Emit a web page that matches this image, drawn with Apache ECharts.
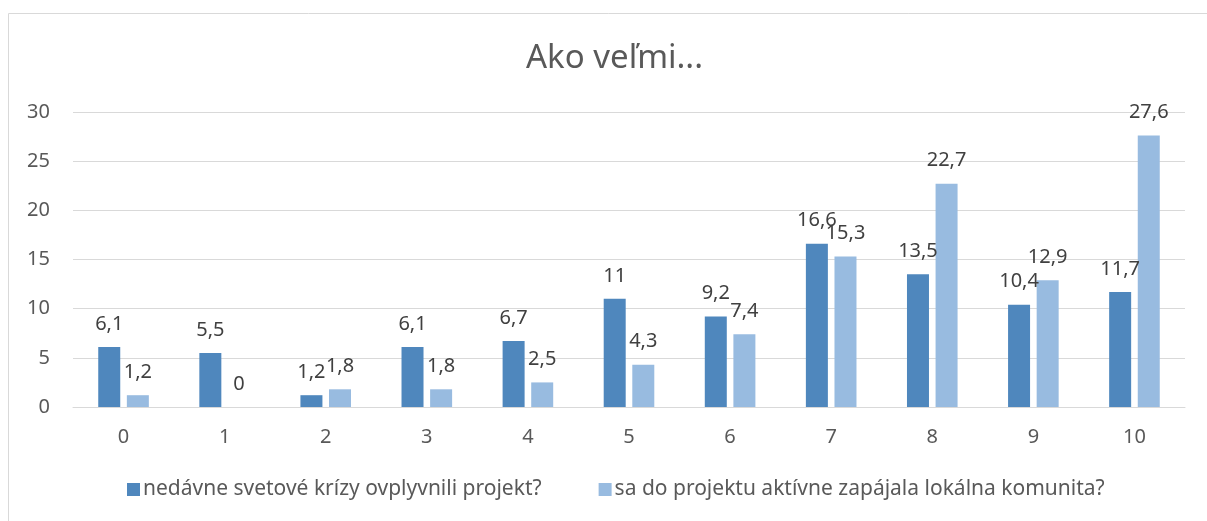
<!DOCTYPE html>
<html style="height: 100%; width:100%">
<head>
    <meta charset="utf-8">
    <script type="text/javascript" src="https://cdn.jsdelivr.net/npm/echarts@6/dist/echarts.min.js"></script>
</head>
<body style="height: 100%; width: 100%; margin: 0; background:#fff;">
<div id="container" style="height: 521px;width:1207px"></div>
<script type="text/javascript">
            var categories = ["0","1","2","3","4","5","6","7","8","9","10"];
            var seriesNames = ["nedávne svetové krízy ovplyvnili projekt?", "sa do projektu aktívne zapájala lokálna komunita?"];
            var krizy = [6.1, 5.5, 1.2, 6.1, 6.7, 11, 9.2, 16.6, 13.5, 10.4, 11.7];
            var komunita = [1.2, 0, 1.8, 1.8, 2.5, 4.3, 7.4, 15.3, 22.7, 12.9, 27.6];

            var dom = document.getElementById("container");
            var myChart = echarts.init(dom);
            var font = "Noto Sans";

            function labelFmt(p) {
                return String(p.value).replace(".", ",");
            }

            var option = {
                animation: false,
                textStyle: { fontFamily: font },
                graphic: [{
                    type: "rect",
                    shape: { x: 8.5, y: 13.5, width: 1210, height: 520 },
                    style: { fill: "none", stroke: "#d9d9d9", lineWidth: 1 }
                }],
                title: {
                    text: "Ako veľmi...",
                    left: 521,
                    top: 37,
                    textStyle: { fontFamily: font, fontSize: 33, fontWeight: "normal", color: "#595959" }
                },
                legend: {
                    bottom: 16,
                    left: 122,
                    itemWidth: 13,
                    itemHeight: 13,
                    itemGap: 57,
                    icon: "rect",
                    textStyle: { fontFamily: font, fontSize: 21, color: "#595959", padding: [0, 0, 0, -2] },
                    data: seriesNames
                },
                grid: { left: 73, right: 22, top: 112, bottom: 114 },
                xAxis: {
                    type: "category",
                    data: categories,
                    axisLine: { lineStyle: { color: "#d9d9d9", width: 1 } },
                    axisTick: { show: false },
                    axisLabel: { color: "#595959", fontSize: 20, margin: 20, fontFamily: font }
                },
                yAxis: {
                    type: "value",
                    min: 0,
                    max: 30,
                    interval: 5,
                    axisLine: { show: false },
                    axisTick: { show: false },
                    splitLine: { lineStyle: { color: "#d9d9d9", width: 1 } },
                    axisLabel: { color: "#595959", fontSize: 20, margin: 23, fontFamily: font }
                },
                series: [{
                    name: seriesNames[0],
                    type: "bar",
                    data: krizy,
                    barWidth: 22,
                    barGap: "30%",
                    itemStyle: { color: "#4f87bd" },
                    label: { show: true, position: "top", distance: 13, color: "#404040", fontSize: 20, fontFamily: font, formatter: labelFmt }
                }, {
                    name: seriesNames[1],
                    type: "bar",
                    data: komunita,
                    barWidth: 22,
                    itemStyle: { color: "#98bbe0" },
                    label: { show: true, position: "top", distance: 13, color: "#404040", fontSize: 20, fontFamily: font, formatter: labelFmt }
                }]
            };
            myChart.setOption(option, true);
</script>
</body>
</html>
